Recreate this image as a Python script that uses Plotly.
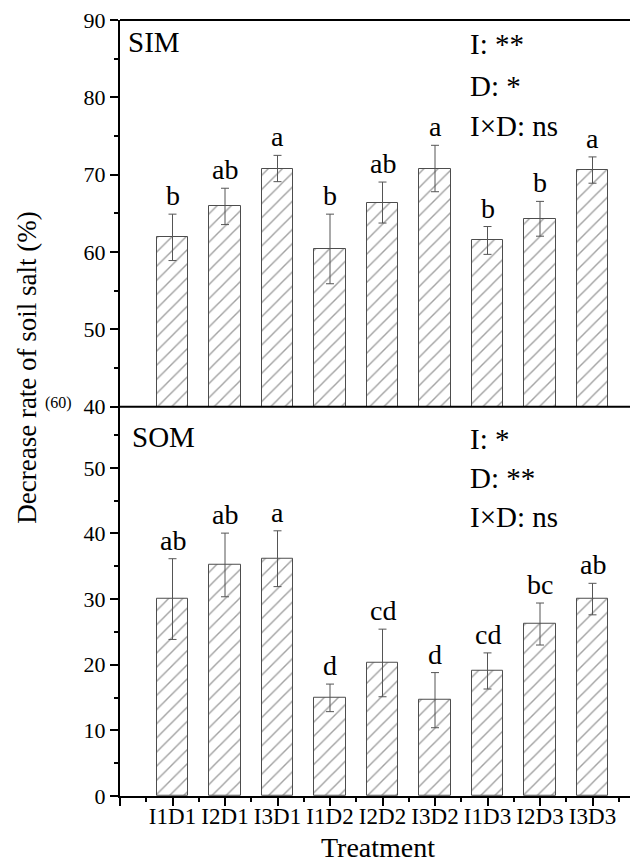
import plotly.graph_objects as go

treatments = ["I1D1", "I2D1", "I3D1", "I1D2", "I2D2", "I3D2", "I1D3", "I2D3", "I3D3"]
sim_values = [61.9, 65.9, 70.8, 60.4, 66.4, 70.8, 61.5, 64.3, 70.6]
sim_errors = [3.0, 2.35, 1.7, 4.5, 2.65, 3.0, 1.8, 2.25, 1.7]
sim_letters = ["b", "ab", "a", "b", "ab", "a", "b", "b", "a"]
som_values = [30.0, 35.2, 36.15, 14.95, 20.27, 14.6, 19.05, 26.2, 30.0]
som_errors = [6.15, 4.85, 4.25, 2.1, 5.15, 4.2, 2.75, 3.2, 2.4]
som_letters = ["ab", "ab", "a", "d", "cd", "d", "cd", "bc", "ab"]
sim_stats = ["I: **", "D: *", "I×D: ns"]
som_stats = ["I: *", "D: **", "I×D: ns"]

FONT = "Liberation Serif, Times New Roman, Times, serif"
# page has an 8px body margin; figure is sized so page == 638x864
W, H = 630, 856
ML, MT, MB = 112, 12, 67.5
PW, PH = W - ML, H - MT - MB
x_pos = list(range(1, len(treatments) + 1))
split = (796.5 - 407) / PH


def px_x(X):  # page pixel -> paper x
    return (X - 120) / PW


def px_y(Y):  # page pixel -> paper y
    return (796.5 - Y) / PH


fig = go.Figure()
bar_style = dict(
    width=0.6,
    marker=dict(color="white", line=dict(color="#4d4d4d", width=1),
                pattern=dict(shape="/", fgcolor="#444444", bgcolor="white", size=10, solidity=0.14)),
    showlegend=False,
)
err_style = dict(type="data", visible=True, color="#555555", thickness=1, width=4)

fig.add_trace(go.Bar(x=x_pos, y=sim_values, error_y=dict(array=sim_errors, **err_style),
                     xaxis="x2", yaxis="y", **bar_style))
fig.add_trace(go.Bar(x=x_pos, y=som_values, error_y=dict(array=som_errors, **err_style),
                     xaxis="x", yaxis="y2", **bar_style))

tickfont = dict(family=FONT, size=22, color="black")
axis_common = dict(showline=True, linecolor="black", linewidth=2, showgrid=False, zeroline=False,
                   ticks="outside", ticklen=8, tickwidth=2, tickcolor="black",
                   ticklabeloverflow="allow")
minor_common = dict(ticks="outside", ticklen=4, tickwidth=2, tickcolor="black")

xr = [0, PW / 52.5]
fig.update_layout(
    width=W, height=H,
    margin=dict(l=ML, r=0, t=MT, b=MB),
    plot_bgcolor="white", paper_bgcolor="white",
    bargap=0,
    xaxis=dict(domain=[0, 1], anchor="y2", range=xr, tickmode="array",
               tickvals=[0] + x_pos, ticktext=[""] + treatments,
               minor=dict(tickmode="linear", tick0=0.5, dtick=1, **minor_common),
               tickfont=dict(family=FONT, size=23, color="black"), ticklabelstandoff=-10,
               **axis_common),
    xaxis2=dict(domain=[0, 1], anchor="y", range=xr, matches="x", visible=False),
    yaxis=dict(domain=[split, 1], anchor="x2", range=[40, 90], tickmode="linear", tick0=40, dtick=10,
               minor=dict(tickmode="linear", tick0=45, dtick=10, **minor_common),
               tickfont=tickfont, **axis_common),
    yaxis2=dict(domain=[0, split], anchor="x", range=[0, 59.3], tickmode="array",
                tickvals=[0, 10, 20, 30, 40, 50],
                minor=dict(tickmode="linear", tick0=5, dtick=10, **minor_common),
                tickfont=tickfont, **axis_common),
)

# panel borders: top line and separator
fig.add_shape(type="line", xref="paper", yref="paper", x0=0, x1=1, y0=1, y1=1,
              line=dict(color="black", width=2))
fig.add_shape(type="line", xref="paper", yref="paper", x0=0, x1=1, y0=split, y1=split,
              line=dict(color="black", width=2))

letter_font = dict(family=FONT, size=28, color="black")
for xi, v, e, t in zip(x_pos, sim_values, sim_errors, sim_letters):
    fig.add_annotation(x=xi, y=v + e, xref="x2", yref="y", text=t, showarrow=False,
                       yanchor="bottom", yshift=1, font=letter_font)
for xi, v, e, t in zip(x_pos, som_values, som_errors, som_letters):
    fig.add_annotation(x=xi, y=v + e, xref="x", yref="y2", text=t, showarrow=False,
                       yanchor="bottom", yshift=1, font=letter_font)

big_font = dict(family=FONT, size=29, color="black")
for txt, Y in zip(sim_stats, [55, 96.7, 136.7]):
    fig.add_annotation(x=px_x(468), y=px_y(Y), xref="paper", yref="paper", text=txt, showarrow=False,
                       xanchor="left", yanchor="bottom", yshift=-7, font=big_font)
for txt, Y in zip(som_stats, [450, 489, 528.3]):
    fig.add_annotation(x=px_x(468), y=px_y(Y), xref="paper", yref="paper", text=txt, showarrow=False,
                       xanchor="left", yanchor="bottom", yshift=-7, font=big_font)

fig.add_annotation(x=px_x(126), y=px_y(53), xref="paper", yref="paper", text="SIM", showarrow=False,
                   xanchor="left", yanchor="bottom", yshift=-7, font=big_font)
fig.add_annotation(x=px_x(130), y=px_y(448), xref="paper", yref="paper", text="SOM", showarrow=False,
                   xanchor="left", yanchor="bottom", yshift=-7, font=big_font)

fig.add_annotation(x=px_x(58), y=px_y(403), xref="paper", yref="paper", text="(60)",
                   showarrow=False, xanchor="center", yanchor="middle",
                   font=dict(family=FONT, size=16, color="black"))
fig.add_annotation(x=px_x(27), y=px_y(368), xref="paper", yref="paper",
                   text="Decrease rate of soil salt (%)", textangle=-90, showarrow=False,
                   xanchor="center", yanchor="middle", font=dict(family=FONT, size=27, color="black"))
fig.add_annotation(x=px_x(378), y=px_y(848), xref="paper", yref="paper",
                   text="Treatment", showarrow=False, xanchor="center", yanchor="middle",
                   font=dict(family=FONT, size=28, color="black"))

fig.write_html("out.html")
